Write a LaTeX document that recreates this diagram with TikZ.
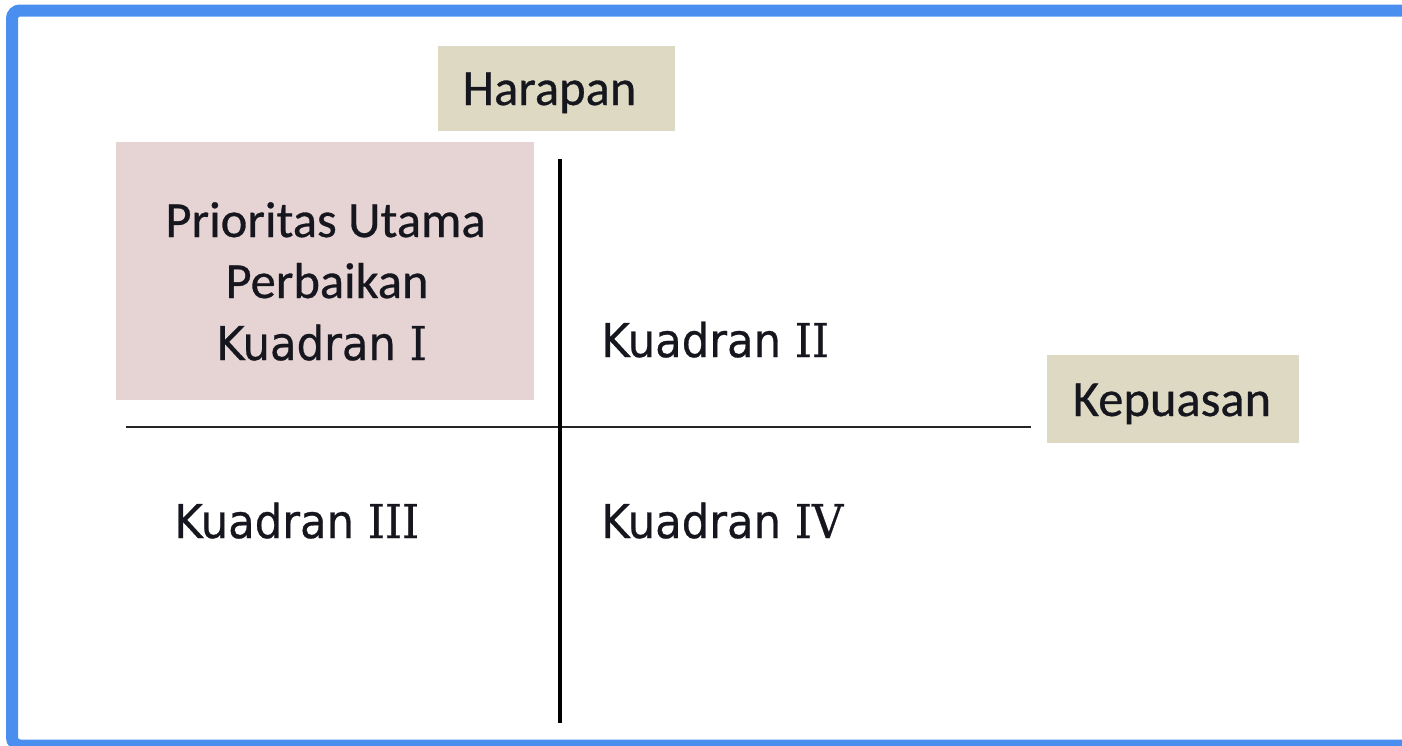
\documentclass[tikz,border=0pt]{standalone}
\usepackage{fontspec}
\setmainfont[FakeBold=0.6]{Carlito}
\newfontfamily\kfont[FakeStretch=0.93,FakeBold=0.6]{DejaVu Sans}
\newfontfamily\rfont[FakeStretch=0.93,FakeBold=0.6]{DejaVu Serif}
\definecolor{frameblue}{RGB}{74,143,239}
\definecolor{tanfill}{RGB}{221,217,195}
\definecolor{rosefill}{RGB}{230,211,211}
\definecolor{ink}{RGB}{22,22,30}
\newcommand{\Rn}[1]{{\rfont #1}}
\begin{document}
\begin{tikzpicture}[x=0.5pt,y=-0.5pt,
  lbl/.style={font=\fontsize{25.25}{30}\selectfont, text=ink, inner sep=0pt, anchor=base},
  kuad/.style={font=\kfont\fontsize{23.3}{28}\selectfont, text=ink, inner sep=0pt, anchor=base west},
  tanbox/.style={fill=tanfill, draw=none, inner sep=0pt},
  rosebox/.style={fill=rosefill, draw=none, inner sep=0pt},
  axisv/.style={line width=2pt, black},
  axish/.style={line width=1.4pt, black!85},
]
\useasboundingbox (0,0) rectangle (1402,745);
\clip (0,0) rectangle (1402,745);
\fill[white] (0,0) rectangle (1402,745);
\draw[frameblue, line width=6pt, rounded corners=4pt] (12,10.5) rectangle (1440,745.5);

% boxes
\node[tanbox, minimum width=118.5pt, minimum height=42.5pt] (hbox) at (556.5,88.5) {};
\node[rosebox, minimum width=209pt, minimum height=129pt] (pbox) at (325,271) {};
\node[tanbox, minimum width=126pt, minimum height=44pt] (kbox) at (1173,399) {};

% axes
\coordinate (vtop) at (560,159);
\coordinate (vbot) at (560,723);
\coordinate (hl) at (126,427);
\coordinate (hr) at (1031,427);
\draw[axish] (hl) -- (hr);
\draw[axisv] (vtop) -- (vbot);

% labels
\node[lbl] (harapan) at (549.5,105) {Harapan};
\node[lbl] (kepuasan) at (1172,416) {Kepuasan};
\node[lbl] (p1) at (325.5,237) {Prioritas Utama};
\node[lbl] (p2) at (327,298) {Perbaikan};
\node[kuad, anchor=base] (k1) at (321.5,360) {Kuadran \Rn{I}};
\node[kuad] (k2) at (601,357) {Kuadran \Rn{II}};
\node[kuad] (k3) at (174,538) {Kuadran \Rn{III}};
\node[kuad] (k4) at (601,538) {Kuadran \Rn{IV}};
\end{tikzpicture}
\end{document}
